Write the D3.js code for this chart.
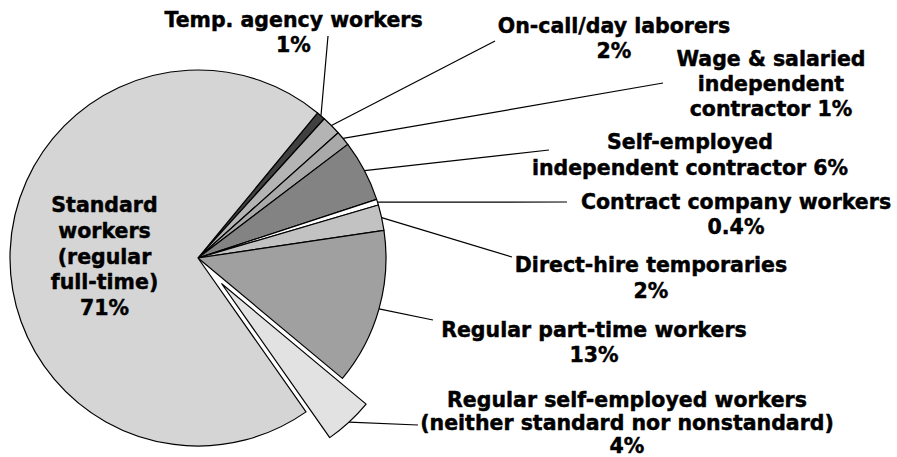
<!DOCTYPE html>
<html>
<head>
<meta charset="utf-8">
<script src="https://cdn.jsdelivr.net/npm/d3@7"></script>
<style>
  html, body { margin: 0; padding: 0; background: #fff; }
  svg { display: block; }
  text { font-family: "DejaVu Sans", sans-serif; font-weight: bold; fill: #000; stroke: #000; stroke-width: 0.45px; stroke-linejoin: round; }
</style>
</head>
<body>
<svg id="chart" width="897" height="457"></svg>
<script>
// ---- data ----
const categories = [
  "Temp. agency workers",
  "On-call/day laborers",
  "Wage & salaried independent contractor",
  "Self-employed independent contractor",
  "Contract company workers",
  "Direct-hire temporaries",
  "Regular part-time workers",
  "Regular self-employed workers (neither standard nor nonstandard)",
  "Standard workers (regular full-time)"
];
const values = [0.75, 1.67, 1.28, 5.28, 0.5, 2.2, 13.4, 4.2, 70.7];
const pctLabels = ["1%", "2%", "1%", "6%", "0.4%", "2%", "13%", "4%", "71%"];
const labelLines = [
  ["Temp. agency workers", "1%"],
  ["On-call/day laborers", "2%"],
  ["Wage & salaried", "independent", "contractor 1%"],
  ["Self-employed", "independent contractor 6%"],
  ["Contract company workers", "0.4%"],
  ["Direct-hire temporaries", "2%"],
  ["Regular part-time workers", "13%"],
  ["Regular self-employed workers", "(neither standard nor nonstandard)", "4%"],
  ["Standard", "workers", "(regular", "full-time)", "71%"]
];
const explodedIndex = 7;

// ---- styles / layout ----
const colors = ["#404040", "#b4b4b4", "#a9a9a9", "#838383", "#ffffff", "#c2c2c2", "#a0a0a0", "#e2e2e2", "#d5d5d5"];
const labelPos = [ // [centerX, firstBaseline, lineHeight]
  [293.5, 27, 25], [614, 33, 25], [771, 66, 25], [690, 149, 25.5], [736, 209, 25],
  [651, 272, 26], [594, 337, 25], [627, 406.5, 23], [104.5, 212, 25.8]
];
const leaderEnds = [
  [328, 36], [495, 41], [663, 83], [549, 150], [567, 202],
  [512, 257], [433, 320], [418, 425], null
];
const cx = 198, cy = 258, R = 188, explode = 35;
const startDeg = 39.5;

const svg = d3.select("#chart");
const g = svg.append("g").attr("transform", `translate(${cx},${cy})`);

const a0 = startDeg * Math.PI / 180;
const pie = d3.pie().sort(null).value(d => d.v).startAngle(a0).endAngle(a0 + 2 * Math.PI);
const data = values.map((v, i) => ({ v, i }));
const arcs = pie(data);
const arc = d3.arc().innerRadius(0).outerRadius(R);

function offsetOf(d) {
  if (d.data.i !== explodedIndex) return [0, 0];
  const m = (d.startAngle + d.endAngle) / 2;
  return [explode * Math.sin(m), -explode * Math.cos(m)];
}

g.selectAll("path.slice")
  .data(arcs)
  .join("path")
  .attr("class", "slice")
  .attr("d", arc)
  .attr("transform", d => { const o = offsetOf(d); return `translate(${o[0]},${o[1]})`; })
  .attr("fill", d => colors[d.data.i])
  .attr("stroke", "#000")
  .attr("stroke-width", 1.2)
  .attr("stroke-linejoin", "round");

// leader lines
g.selectAll("line.leader")
  .data(arcs.filter(d => leaderEnds[d.data.i]))
  .join("line")
  .attr("class", "leader")
  .attr("x1", d => { const m = (d.startAngle + d.endAngle) / 2; return offsetOf(d)[0] + R * Math.sin(m); })
  .attr("y1", d => { const m = (d.startAngle + d.endAngle) / 2; return offsetOf(d)[1] - R * Math.cos(m); })
  .attr("x2", d => leaderEnds[d.data.i][0] - cx)
  .attr("y2", d => leaderEnds[d.data.i][1] - cy)
  .attr("stroke", "#000")
  .attr("stroke-width", 1.2);

// labels
const labels = svg.selectAll("text.lbl")
  .data(labelLines)
  .join("text")
  .attr("class", "lbl")
  .attr("text-anchor", "middle")
  .attr("font-size", 20.5)
  .attr("x", (d, i) => labelPos[i][0])
  .attr("y", (d, i) => labelPos[i][1]);
labels.each(function(lines, i) {
  d3.select(this).selectAll("tspan")
    .data(lines)
    .join("tspan")
    .attr("x", labelPos[i][0])
    .attr("dy", (d, k) => k === 0 ? 0 : labelPos[i][2])
    .text(d => d);
});
</script>
</body>
</html>
